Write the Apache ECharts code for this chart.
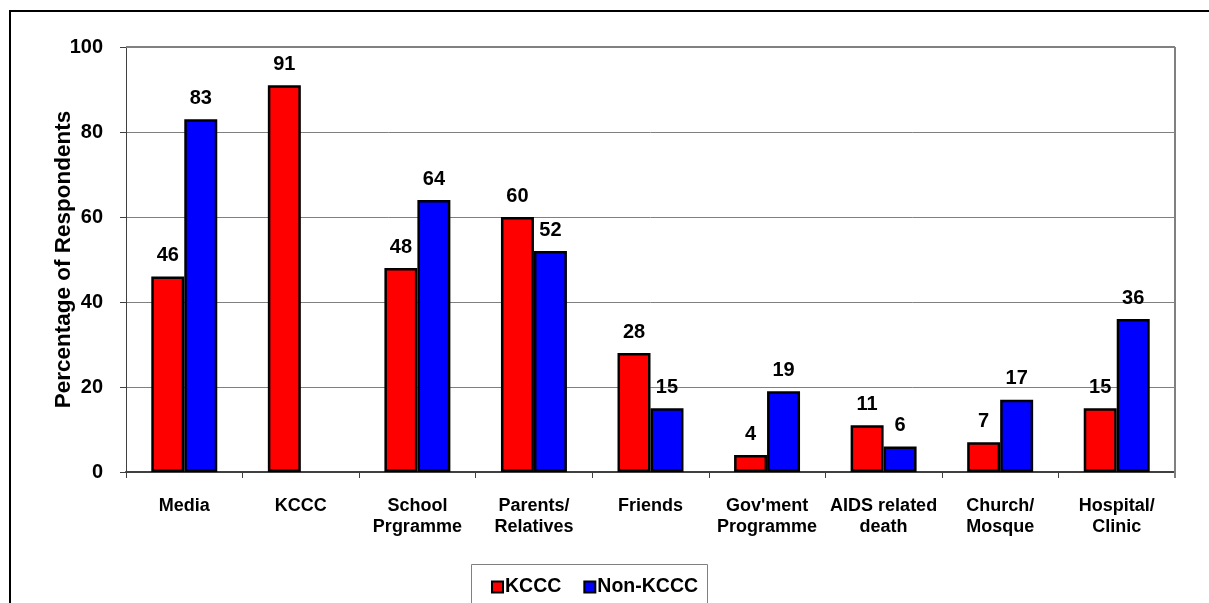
<!DOCTYPE html>
<html>
<head>
<meta charset="utf-8">
<script src="https://cdn.jsdelivr.net/npm/echarts@6/dist/echarts.min.js"></script>
<style>
html,body{margin:0;padding:0;background:#fff;}
#c{width:1209px;height:603px;}
</style>
</head>
<body>
<div id="c"></div>
<script>
var categories = ['Media', 'KCCC', 'School\nPrgramme', 'Parents/\nRelatives', 'Friends', "Gov'ment\nProgramme", 'AIDS related\ndeath', 'Church/\nMosque', 'Hospital/\nClinic'];
var kcccValues = [46, 91, 48, 60, 28, 4, 11, 7, 15];
var nonKcccValues = [83, null, 64, 52, 15, 19, 6, 17, 36];
var yTicks = [0, 20, 40, 60, 80, 100];
var seriesNames = ['KCCC', 'Non-KCCC'];

var FONT = '"Liberation Sans", Arial, sans-serif';
var chart = echarts.init(document.getElementById('c'), null, {renderer: 'canvas'});

var labelStyle = {
  show: true, position: 'top', distance: 11,
  fontFamily: FONT, fontWeight: 'bold', fontSize: 20, color: '#000'
};

chart.setOption({
  animation: false,
  backgroundColor: '#fff',
  graphic: [
    {type: 'rect', shape: {x: 10, y: 11, width: 1300, height: 700}, style: {fill: 'none', stroke: '#000', lineWidth: 2}, z: -1},
    {type: 'rect', shape: {x: 471.5, y: 564.5, width: 236, height: 60}, style: {fill: '#fff', stroke: '#808080', lineWidth: 1}, z: 0},
    {type: 'line', shape: {x1: 126, y1: 47, x2: 1175, y2: 47}, style: {stroke: '#808080', lineWidth: 2}, z: 1},
    {type: 'line', shape: {x1: 1175, y1: 47, x2: 1175, y2: 478}, style: {stroke: '#808080', lineWidth: 2}, z: 1}
  ],
  grid: {left: 126, top: 47, right: 34, bottom: 131, containLabel: false},
  legend: {
    data: seriesNames,
    left: 486, top: 572,
    itemWidth: 11, itemHeight: 11, itemGap: 22,
    icon: 'rect',
    textStyle: {fontFamily: FONT, fontWeight: 'bold', fontSize: 19.5, color: '#000', padding: [0, 0, 0, -3]},
    itemStyle: {borderColor: '#000', borderWidth: 2}
  },
  xAxis: {
    type: 'category',
    data: categories,
    axisLine: {lineStyle: {color: '#404040', width: 2}},
    axisTick: {show: true, length: 6, lineStyle: {color: '#404040', width: 1}},
    axisLabel: {
      interval: 0, margin: 24, lineHeight: 21,
      fontFamily: FONT, fontWeight: 'bold', fontSize: 18, color: '#000'
    }
  },
  yAxis: {
    type: 'value',
    min: 0, max: 100, interval: 20,
    name: 'Percentage of Respondents',
    nameLocation: 'middle', nameGap: 51, nameRotate: 90,
    nameMoveOverlap: false,
    nameTextStyle: {fontFamily: FONT, fontWeight: 'bold', fontSize: 22.5, color: '#000'},
    axisLine: {show: true, lineStyle: {color: '#404040', width: 1}},
    axisTick: {show: true, length: 6, lineStyle: {color: '#404040'}},
    splitLine: {show: true, lineStyle: {color: '#808080', width: 1}},
    axisLabel: {
      margin: 23,
      fontFamily: FONT, fontWeight: 'bold', fontSize: 20, color: '#000',
      formatter: function (v) { return yTicks.indexOf(v) >= 0 ? String(v) : ''; }
    }
  },
  series: [
    {
      name: seriesNames[0], type: 'bar', data: kcccValues,
      barWidth: '28.3%', barGap: '0%',
      itemStyle: {color: '#ff0000', borderColor: '#000', borderWidth: 2.5},
      label: labelStyle
    },
    {
      name: seriesNames[1], type: 'bar', data: nonKcccValues,
      barWidth: '28.3%', barGap: '0%',
      itemStyle: {color: '#0000ff', borderColor: '#000', borderWidth: 2.5},
      label: labelStyle
    }
  ]
});
</script>
</body>
</html>
